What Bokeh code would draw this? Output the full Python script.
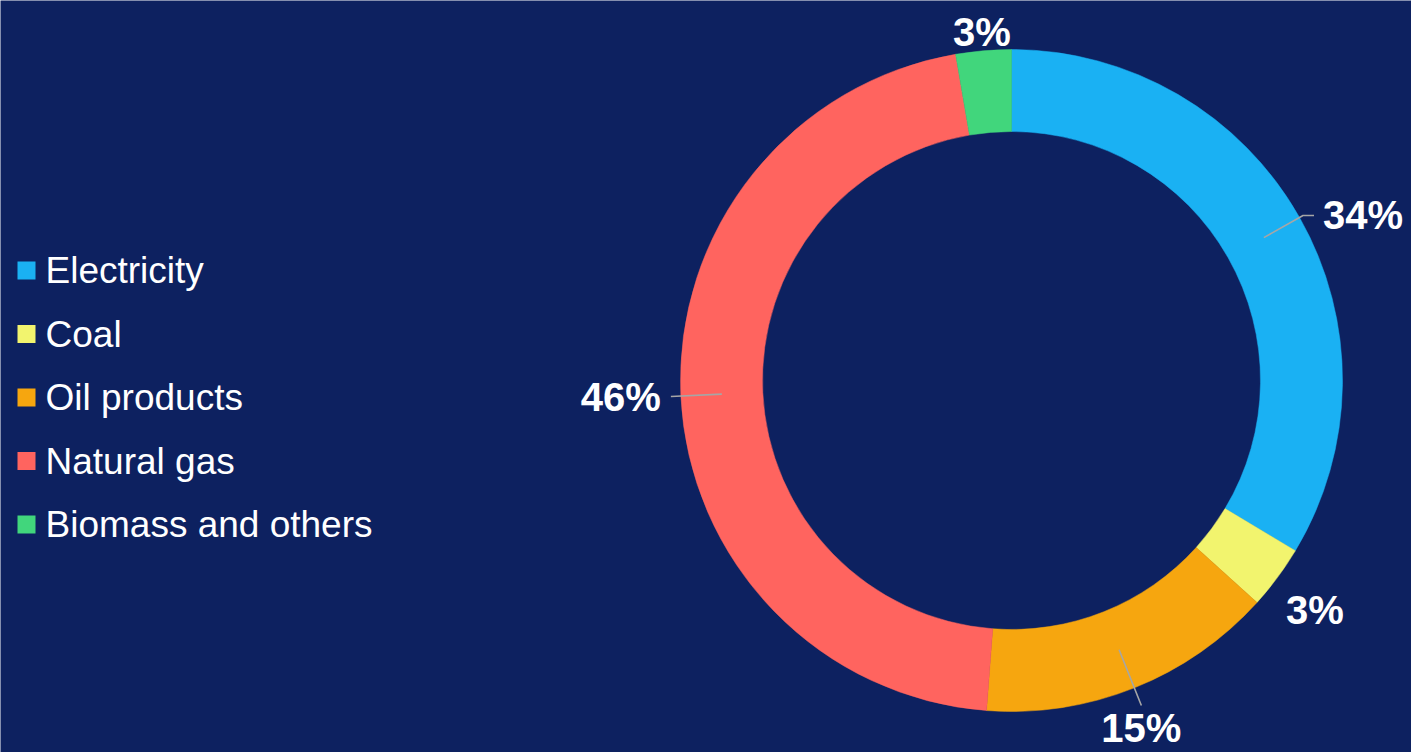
import numpy as np
from bokeh.plotting import figure
from bokeh.models import ColumnDataSource, Range1d
from bokeh.embed import file_html
from bokeh.resources import INLINE
from bokeh.core.properties import value

# ---- data ----
categories = ["Electricity", "Coal", "Oil products", "Natural gas", "Biomass and others"]
shares = [33.6, 3.1, 14.5, 46.1, 2.7]
labels = ["34%", "3%", "15%", "46%", "3%"]
colors = ["#1AB1F3", "#F2F46E", "#F6A60F", "#FF645F", "#41D67C"]

# ---- styling / layout ----
W, H = 1411, 752
BG = "#0D2160"
FONT = "Liberation Sans"
cx, cy = 1011, 372
r_out, r_in = 331, 249
r_mid = (r_out + r_in) / 2

# per label: leader end radius (None = no leader), horizontal tail, text offset, align
leader_r = [335, None, 350, 341, None]
leader_tail = [11, 0, 0, 0, 0]
text_r = [335, 385, 350, 341, 350]
text_dx = [20, -6, 0, -10, 0]
text_dy = [0, 0, -22, 0, 0]
text_align = ["left", "center", "center", "right", "center"]

p = figure(width=W, height=H, x_range=Range1d(0, W), y_range=Range1d(0, H),
           output_backend="svg", toolbar_location=None, min_border=0,
           background_fill_color=BG, border_fill_color=BG, outline_line_color=None)
p.axis.visible = False
p.grid.visible = False

vals = np.array(shares, dtype=float)
frac = vals / vals.sum()
cum_end = np.cumsum(frac)
cum_start = cum_end - frac
start = np.pi / 2 - 2 * np.pi * cum_start
end = np.pi / 2 - 2 * np.pi * cum_end
mid_a = 2 * np.pi * (cum_start + cum_end) / 2  # clockwise from top

src = ColumnDataSource(dict(start=start, end=end, color=colors, cat=categories))
p.annular_wedge(x=cx, y=cy, inner_radius=r_in, outer_radius=r_out,
                start_angle="start", end_angle="end", direction="clock",
                fill_color="color", line_color="color", line_width=0.5, source=src)

# leader lines and labels
for i in range(len(categories)):
    s, c = np.sin(mid_a[i]), np.cos(mid_a[i])
    if leader_r[i] is not None:
        x0, y0 = cx + r_mid * s, cy + r_mid * c
        x1, y1 = cx + leader_r[i] * s, cy + leader_r[i] * c
        xs = [x0, x1]
        ys = [y0, y1]
        if leader_tail[i]:
            xs.append(x1 + leader_tail[i])
            ys.append(y1)
        p.line(xs, ys, line_color="#A6A6A6", line_width=1.6)
    tx = cx + text_r[i] * s + text_dx[i]
    ty = cy + text_r[i] * c + text_dy[i]
    p.text(x=[tx], y=[ty], text=[labels[i]], text_color="white",
           text_font=value(FONT), text_font_style="bold", text_font_size="40px",
           text_align=text_align[i], text_baseline="middle")

# legend (manual)
leg_x, leg_top, leg_pitch, sq = 26, 482, 63.5, 18
leg_y = [leg_top - k * leg_pitch for k in range(len(categories))]
p.rect(x=[leg_x] * len(categories), y=leg_y, width=sq, height=sq,
       fill_color=colors, line_color=None)
p.text(x=[leg_x + 19] * len(categories), y=leg_y, text=categories,
       text_color="white", text_font=value(FONT), text_font_size="37px",
       text_align="left", text_baseline="middle")

open("out.html", "w").write(file_html(p, INLINE))
